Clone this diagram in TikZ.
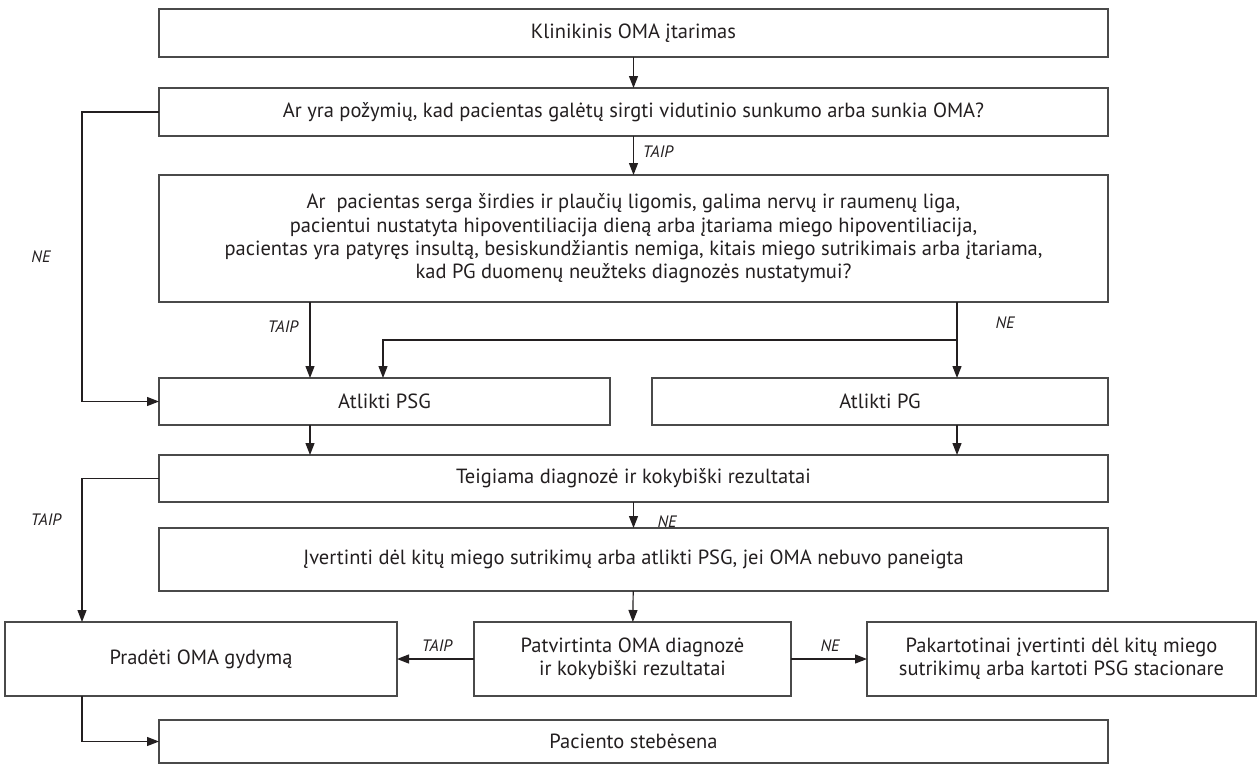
\documentclass[tikz,border=0pt]{standalone}
\usepackage{fontspec}
\setmainfont{PT Sans}
\usetikzlibrary{arrows.meta}
\definecolor{ink}{HTML}{231F20}
\definecolor{edge}{HTML}{4A4A4A}
\begin{document}
\begin{tikzpicture}[x=1pt,y=-1pt,
  box/.style={draw=edge, line width=1.4pt, fill=white, inner sep=0pt, outer sep=0pt,
    align=center, text=ink, font=\fontsize{20.5}{23.4}\selectfont},
  conn/.style={draw=ink, line width=1.2pt, -{Triangle[length=12pt,width=9pt]}},
  lab/.style={text=ink, font=\fontsize{16.5}{18}\selectfont\itshape, inner sep=0pt}]
\useasboundingbox (0,0) rectangle (1260,764);
\fill[white] (0,0) rectangle (1260,764);

\node[box, minimum width=949pt, minimum height=48pt] (b1) at (633.5,32.8) {Klinikinis OMA įtarimas};
\node[box, minimum width=949pt, minimum height=48pt] (b2) at (633.5,112) {Ar yra požymių, kad pacientas galėtų sirgti vidutinio sunkumo arba sunkia OMA?};
\node[box, minimum width=949pt, minimum height=127pt] (b3) at (633.5,238.5) {Ar\ \ pacientas serga širdies ir plaučių ligomis, galima nervų ir raumenų liga,\\pacientui nustatyta hipoventiliacija dieną arba įtariama miego hipoventiliacija,\\pacientas yra patyręs insultą, besiskundžiantis nemiga, kitais miego sutrikimais arba įtariama,\\kad PG duomenų neužteks diagnozės nustatymui?};
\node[box, minimum width=451pt, minimum height=47pt] (psg) at (384.5,401.5) {Atlikti PSG};
\node[box, minimum width=456pt, minimum height=47pt] (pg) at (880,401.5) {Atlikti PG};
\node[box, minimum width=949pt, minimum height=47pt] (teig) at (633.5,478.5) {Teigiama diagnozė ir kokybiški rezultatai};
\node[box, minimum width=949pt, minimum height=63pt] (ivert) at (633.5,559.5) {Įvertinti dėl kitų miego sutrikimų arba atlikti PSG, jei OMA nebuvo paneigta};
\node[box, minimum width=392pt, minimum height=74pt] (prad) at (201,659) {Pradėti OMA gydymą};
\node[box, minimum width=317pt, minimum height=74pt] (patv) at (632.5,659) {Patvirtinta OMA diagnozė\\ir kokybiški rezultatai};
\node[box, minimum width=389pt, minimum height=74pt] (pak) at (1061.5,659) {Pakartotinai įvertinti dėl kitų miego\\sutrikimų arba kartoti PSG stacionare};
\node[box, minimum width=949pt, minimum height=43pt] (pac) at (633.5,741.5) {Paciento stebėsena};

\coordinate (xl) at (82,0);
\coordinate (xt) at (310,0);
\coordinate (xn) at (957,0);
\coordinate (xb) at (383,0);
\coordinate (br) at (957,340);

\draw[conn] (b1) -- (b2);
\draw[conn] (b2) -- (b3);
\draw[conn] (b2.west) -| (xl |- psg.west) -- (psg.west);
\draw[conn] (b3.south -| xt) -- (psg.north -| xt);
\draw[conn] (b3.south -| xn) -- (pg.north -| xn);
\draw[conn] (br) -- (br -| xb) -- (psg.north -| xb);
\draw[conn] (psg.south -| xt) -- (teig.north -| xt);
\draw[conn] (pg.south -| xn) -- (teig.north -| xn);
\draw[conn] (teig.west) -| (prad.north -| xl);
\draw[conn] (teig) -- (ivert);
\draw[conn] (ivert) -- (patv);
\draw[conn] (patv) -- (prad);
\draw[conn] (patv) -- (pak);
\draw[conn] (prad.south -| xl) |- (pac.west);

\node[lab] (l1) at (658,152) {TAIP};
\node[lab] (l2) at (41,257) {NE};
\node[lab] (l3) at (283,327) {TAIP};
\node[lab] (l4) at (1005,323) {NE};
\node[lab] (l5) at (46,520) {TAIP};
\node[lab] (l6) at (667,522) {NE};
\node[lab] (l7) at (437,646) {TAIP};
\node[lab] (l8) at (830,646) {NE};
\end{tikzpicture}
\end{document}
